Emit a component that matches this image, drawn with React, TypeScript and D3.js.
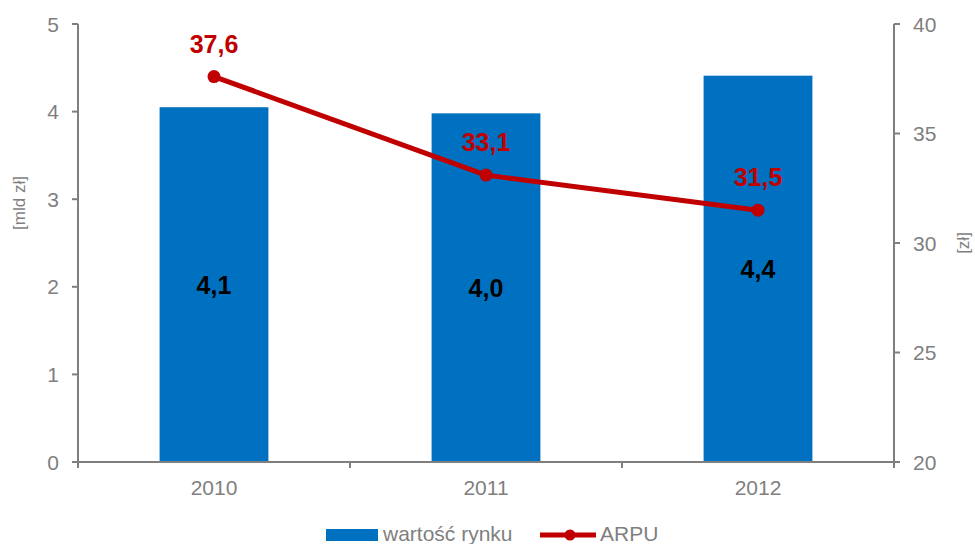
import React from "react";
import * as d3 from "d3";

const categories = ["2010", "2011", "2012"];
const marketValues = [4.05, 3.98, 4.41];
const marketLabels = ["4,1", "4,0", "4,4"];
const arpuValues = [37.6, 33.1, 31.5];
const arpuLabels = ["37,6", "33,1", "31,5"];
const leftTicks = [0, 1, 2, 3, 4, 5];
const rightTicks = [20, 25, 30, 35, 40];

const W = 975;
const H = 544;
const left = 78;
const right = 894;
const top = 24;
const bottom = 462;
const gray = "#7f7f7f";
const font = "'Liberation Sans', Arial, sans-serif";

export default function App() {
  const x = d3.scaleBand().domain(categories).range([left, right]).paddingInner(0).paddingOuter(0);
  const yL = d3.scaleLinear().domain([0, 5]).range([bottom, top]);
  const yR = d3.scaleLinear().domain([20, 40]).range([bottom, top]);
  const bw = x.bandwidth() * 0.4;
  const cx = (c: string) => (x(c) as number) + x.bandwidth() / 2;
  const line = d3
    .line<number>()
    .x((_, i) => cx(categories[i]))
    .y((d) => yR(d));
  const boundaries = [...categories.map((c) => x(c) as number), right];

  return (
    <svg width={W} height={H} style={{ position: "absolute", left: 0, top: 0, fontFamily: font }}>
      <rect width={W} height={H} fill="#fff" />
      {/* bars */}
      {categories.map((c, i) => (
        <rect
          key={c}
          x={cx(c) - bw / 2}
          y={yL(marketValues[i])}
          width={bw}
          height={bottom - yL(marketValues[i])}
          fill="#0070C0"
        />
      ))}
      {/* left axis */}
      <line x1={left} x2={left} y1={top} y2={bottom} stroke={gray} strokeWidth={2} />
      {leftTicks.map((t) => (
        <g key={t}>
          <line x1={left - 6} x2={left} y1={yL(t)} y2={yL(t)} stroke={gray} strokeWidth={2} />
          <text x={59} y={yL(t)} dy="0.36em" textAnchor="end" fontSize={21} fill={gray}>
            {t}
          </text>
        </g>
      ))}
      {/* right axis */}
      <line x1={right} x2={right} y1={top} y2={bottom} stroke={gray} strokeWidth={2} />
      {rightTicks.map((t) => (
        <g key={t}>
          <line x1={right} x2={right + 6} y1={yR(t)} y2={yR(t)} stroke={gray} strokeWidth={2} />
          <text x={913} y={yR(t)} dy="0.36em" textAnchor="start" fontSize={21} fill={gray}>
            {t}
          </text>
        </g>
      ))}
      {/* bottom axis */}
      <line x1={left - 6} x2={right + 6} y1={bottom} y2={bottom} stroke={gray} strokeWidth={2} />
      {boundaries.map((b, i) => (
        <line key={i} x1={b} x2={b} y1={bottom} y2={bottom + 6} stroke={gray} strokeWidth={2} />
      ))}
      {categories.map((c) => (
        <text key={c} x={cx(c)} y={495} textAnchor="middle" fontSize={21} fill={gray}>
          {c}
        </text>
      ))}
      {/* axis titles */}
      <text transform="translate(25,203) rotate(-90)" textAnchor="middle" fontSize={17} fill={gray}>
        [mld zł]
      </text>
      <text transform="translate(969,243) rotate(-90)" textAnchor="middle" fontSize={17} fill={gray}>
        [zł]
      </text>
      {/* bar labels */}
      {categories.map((c, i) => (
        <text
          key={c}
          x={cx(c)}
          y={(yL(marketValues[i]) + bottom) / 2}
          dy="0.36em"
          textAnchor="middle"
          fontSize={25}
          fontWeight="bold"
          fill="#000"
        >
          {marketLabels[i]}
        </text>
      ))}
      {/* ARPU line */}
      <path d={line(arpuValues) as string} fill="none" stroke="#C00000" strokeWidth={5} strokeLinejoin="round" />
      {arpuValues.map((v, i) => (
        <circle key={i} cx={cx(categories[i])} cy={yR(v)} r={6.5} fill="#C00000" />
      ))}
      {arpuValues.map((v, i) => (
        <text
          key={i}
          x={cx(categories[i])}
          y={yR(v) - 33}
          dy="0.36em"
          textAnchor="middle"
          fontSize={25}
          fontWeight="bold"
          fill="#C00000"
        >
          {arpuLabels[i]}
        </text>
      ))}
      {/* legend */}
      <rect x={326} y={529} width={52} height={12} fill="#0070C0" />
      <text x={383} y={541} fontSize={21} fill={gray}>
        wartość rynku
      </text>
      <line x1={540} x2={596} y1={535} y2={535} stroke="#C00000" strokeWidth={5} />
      <circle cx={570} cy={535} r={5.5} fill="#C00000" />
      <text x={600} y={541} fontSize={21} fill={gray}>
        ARPU
      </text>
    </svg>
  );
}
